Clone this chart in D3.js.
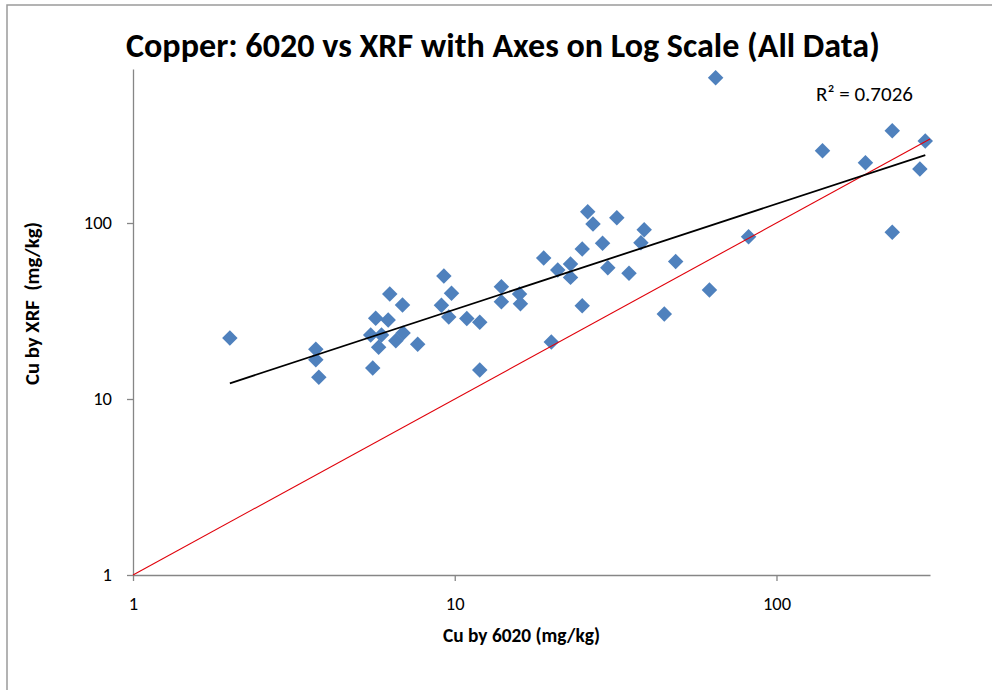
<!DOCTYPE html>
<html>
<head>
<meta charset="utf-8">
<script src="https://cdn.jsdelivr.net/npm/d3@7"></script>
<style>
  html, body { margin: 0; padding: 0; background: #fff; }
  svg { display: block; }
  text { font-family: Carlito, Calibri, Lato, "Open Sans", sans-serif; fill: #000; }
</style>
</head>
<body>
<svg id="chart" width="992" height="690"></svg>
<script>
// ---- data ----
const titleText = "Copper: 6020 vs XRF with Axes on Log Scale (All Data)";
const xLabelText = "Cu by 6020 (mg/kg)";
const yLabelText = "Cu by XRF  (mg/kg)";
const r2Text = "R\u00B2 = 0.7026";

const cu6020 = [2.00, 3.70, 3.70, 3.78, 5.48, 5.68, 5.56, 5.80, 5.92, 6.21,
                6.28, 6.56, 6.88, 6.91, 7.67, 9.09, 9.25, 9.58, 9.77, 10.9,
                11.96, 11.96, 13.96, 13.96, 15.9, 16.0, 18.9, 19.96, 20.9, 22.9,
                22.9, 24.9, 24.9, 25.9, 26.9, 28.8, 29.9, 31.9, 34.8, 37.9,
                38.8, 44.8, 48.6, 61.9, 64.7, 81.9, 139, 189, 229, 229,
                279, 290];
const cuXRF  = [22.2, 19.2, 16.7, 13.3, 23.1, 28.8, 15.0, 19.7, 23.1, 28.1,
                39.5, 21.4, 34.2, 23.7, 20.5, 34.1, 50.0, 29.2, 39.9, 28.7,
                27.3, 14.6, 43.5, 35.7, 39.5, 34.8, 63.2, 21.1, 54.1, 58.5,
                49.1, 71.2, 33.9, 116, 98.7, 76.7, 55.7, 107, 51.8, 77.3,
                91.6, 30.4, 60.4, 41.6, 669, 83.6, 257, 220, 334, 88.5,
                203, 292];

const xTicks = [1, 10, 100];
const yTicks = [1, 10, 100];
const xDomain = [1, 300];
const yDomain = [1, 750];

// power trendline y = a * x^b, drawn over the data range
const trendA = 8.1;
const trendB = 0.6;
const trendX = [2, 290];
// 1:1 reference line
const oneToOne = [1, 300];

// ---- drawing ----
const svg = d3.select("#chart");

// outer chart border
svg.append("rect")
  .attr("x", 7).attr("y", 5)
  .attr("width", 1000).attr("height", 700)
  .attr("fill", "#fff")
  .attr("stroke", "#9a9a9a").attr("stroke-width", 1.5);

const x = d3.scaleLog().domain(xDomain).range([133, 930]);
const y = d3.scaleLog().domain(yDomain).range([575, 69]);

const axisColor = "#868686";

const xAxis = svg.append("g")
  .attr("transform", "translate(0,575)")
  .call(d3.axisBottom(x).tickValues(xTicks).tickFormat(d3.format("d"))
        .tickSizeInner(6).tickSizeOuter(0).tickPadding(15.5));
const yAxis = svg.append("g")
  .attr("transform", "translate(133,0)")
  .call(d3.axisLeft(y).tickValues(yTicks).tickFormat(d3.format("d"))
        .tickSizeInner(6).tickSizeOuter(0).tickPadding(15));

[xAxis, yAxis].forEach(g => {
  g.select(".domain").attr("stroke", axisColor).attr("stroke-width", 1.3);
  g.selectAll(".tick line").attr("stroke", axisColor).attr("stroke-width", 1.3);
  g.selectAll(".tick text")
    .style("font-family", "Carlito, Calibri, Lato, 'Open Sans', sans-serif")
    .style("font-size", "18.5px").attr("fill", "#000");
});

// data points (diamonds)
const diamond = d3.symbol().type(d3.symbolSquare).size(120);
svg.append("g").selectAll("path")
  .data(cu6020.map((v, i) => [v, cuXRF[i]]))
  .join("path")
  .attr("d", diamond)
  .attr("transform", d => `translate(${x(d[0])},${y(d[1])}) rotate(45)`)
  .attr("fill", "#4F81BD");

// 1:1 line (red)
svg.append("path")
  .datum(oneToOne)
  .attr("d", d3.line().x(d => x(d)).y(d => y(d)))
  .attr("stroke", "#E0000A").attr("stroke-width", 1.1).attr("fill", "none");

// power trendline (black)
svg.append("path")
  .datum(trendX)
  .attr("d", d3.line().x(d => x(d)).y(d => y(trendA * Math.pow(d, trendB))))
  .attr("stroke", "#000").attr("stroke-width", 1.8).attr("fill", "none");

// helper: fit text to a target width by scaling the font size
function fitText(sel, base, target) {
  sel.style("font-size", base + "px");
  const L = sel.node().getComputedTextLength();
  if (L > 0) sel.style("font-size", (base * target / L) + "px");
}

// title
const title = svg.append("text")
  .attr("x", 126).attr("y", 57)
  .attr("text-anchor", "start")
  .style("font-weight", "bold")
  .text(titleText);
fitText(title, 30, 754);

// x axis label
const xl = svg.append("text")
  .attr("x", 521.5).attr("y", 642)
  .attr("text-anchor", "middle")
  .style("font-weight", "bold")
  .text(xLabelText);
fitText(xl, 18, 157);

// y axis label
const yl = svg.append("text")
  .attr("transform", "translate(39,303.5) rotate(-90)")
  .attr("text-anchor", "middle")
  .style("font-weight", "bold")
  .style("white-space", "pre")
  .text(yLabelText);
fitText(yl, 18, 163);

// R² label
const r2 = svg.append("text")
  .attr("x", 816).attr("y", 101)
  .attr("text-anchor", "start")
  .text(r2Text);
fitText(r2, 18, 97);
</script>
</body>
</html>
